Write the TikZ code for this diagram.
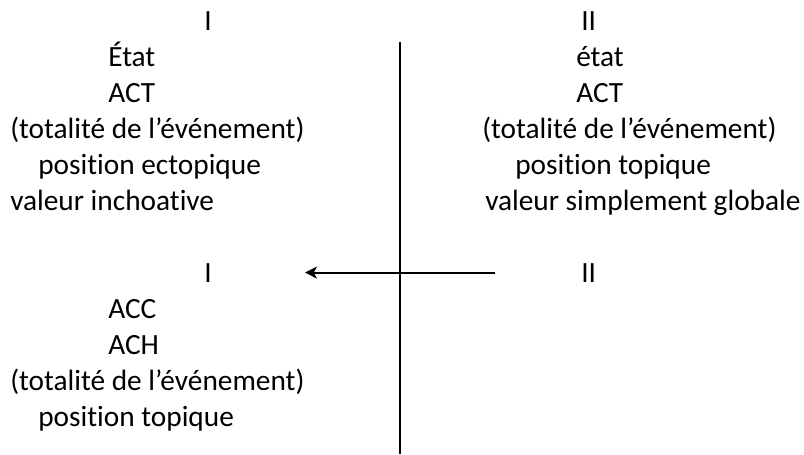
\documentclass[tikz,border=0pt]{standalone}
\usepackage{fontspec}
\setmainfont{Carlito}[Ligatures=NoCommon]
\usetikzlibrary{arrows.meta, positioning}
\tikzset{
  lbl/.style={anchor=base west, inner sep=0pt, font=\fontsize{22}{27}\selectfont},
  axe/.style={black, line width=1.4pt},
  arrowL/.style={-{Stealth[length=9pt, width=9pt, inset=2.5pt]}, black, line width=1.4pt},
}
\begin{document}
\begin{tikzpicture}[x=0.75pt, y=-0.75pt]
    \useasboundingbox (0,0) rectangle (804,454);
    % colonne gauche (haut)
    \foreach \i/\x/\w in {0/204/I, 1/108/État, 2/108/ACT, 3/10/{(totalité de l’événement)},
                          4/38/position ectopique, 5/10/valeur inchoative} {
      \node[lbl] (g\i) at (\x, 30+36*\i) {\w};
    }
    % colonne droite (haut)
    \foreach \i/\x/\w in {0/581/II, 1/576/état, 2/576/ACT, 3/482/{(totalité de l’événement)},
                          4/515/position topique, 5/485/valeur simplement globale} {
      \node[lbl] (d\i) at (\x, 30+36*\i) {\w};
    }
    % colonne gauche (bas)
    \foreach \i/\x/\w in {7/204/I, 8/108/ACC, 9/108/ACH, 10/10/{(totalité de l’événement)},
                          11/38/position topique} {
      \node[lbl] (g\i) at (\x, 30+36*\i) {\w};
    }
    \node[lbl] (d7) at (581, 282) {II};
    % axe vertical et fleche
    \coordinate (axeH) at (400, 42);
    \coordinate (axeB) at (400, 454);
    \coordinate (flD) at (495, 0 |- g7.center);
    \coordinate (flG) at (305, 0 |- g7.center);
    \draw[axe] (axeH) -- (axeB);
    \draw[arrowL] (flD) -- (flG);
\end{tikzpicture}
\end{document}
